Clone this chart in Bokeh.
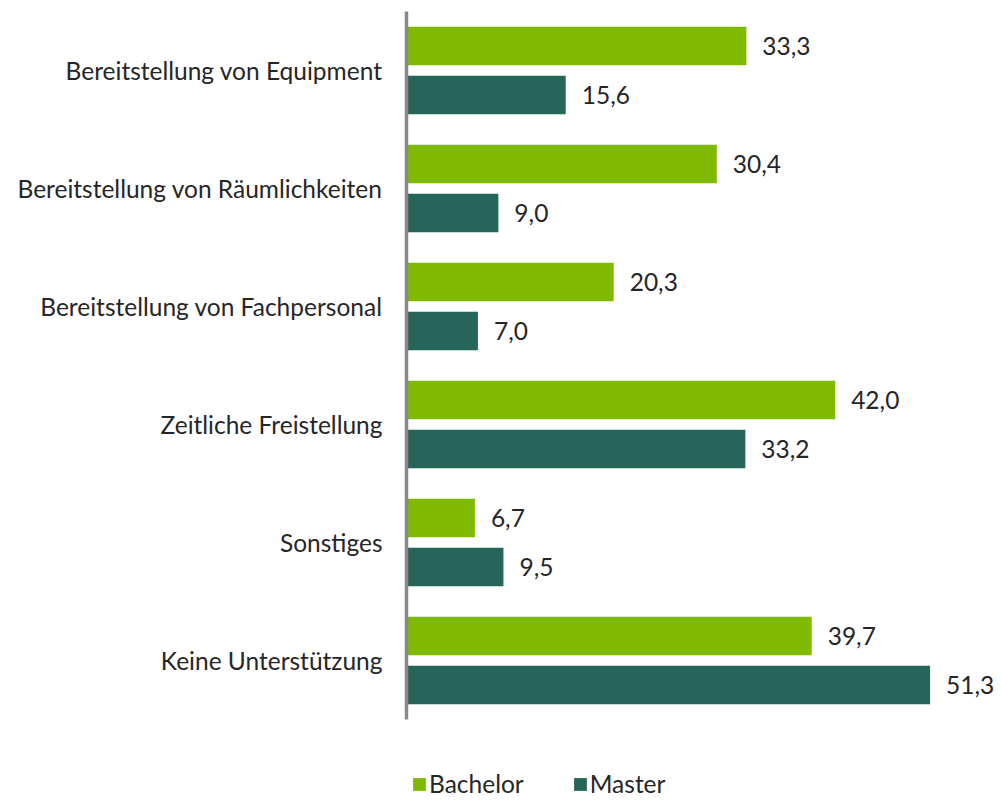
from bokeh.plotting import figure
from bokeh.layouts import column
from bokeh.models import FactorRange, Range1d, ColumnDataSource, Legend, LegendItem
from bokeh.transform import dodge
from bokeh.core.properties import value
from bokeh.embed import file_html
from bokeh.resources import INLINE

categories = ["Bereitstellung von Equipment", "Bereitstellung von Räumlichkeiten",
              "Bereitstellung von Fachpersonal", "Zeitliche Freistellung",
              "Sonstiges", "Keine Unterstützung"]
bachelor = [33.3, 30.4, 20.3, 42.0, 6.7, 39.7]
master = [15.6, 9.0, 7.0, 33.2, 9.5, 51.3]
series_names = ["Bachelor", "Master"]
colors = ["#7FBA00", "#27645A"]

FONT = "Lato"
TXT = "#262626"
FS = "24.5px"

def fmt(v):
    return f"{v:.1f}".replace(".", ",")

src = ColumnDataSource(dict(
    cat=categories,
    bachelor=bachelor,
    master=master,
    bl=[fmt(v) for v in bachelor],
    ml=[fmt(v) for v in master],
))

p = figure(width=1000, height=730, output_backend="svg", toolbar_location=None,
           y_range=FactorRange(*reversed(categories)),
           x_range=Range1d(0, 58.2),
           x_axis_location=None,
           min_border_top=11, min_border_bottom=11, min_border_left=406, min_border_right=0)
p.outline_line_color = None
p.xgrid.visible = False
p.ygrid.visible = False
p.background_fill_color = "white"
p.border_fill_color = "white"

off = 0.208
hb = 0.325
p.hbar(y=dodge("cat", off, range=p.y_range), left=0, right="bachelor", height=hb,
       source=src, fill_color=colors[0], line_color=None)
p.hbar(y=dodge("cat", -off, range=p.y_range), left=0, right="master", height=hb,
       source=src, fill_color=colors[1], line_color=None)

p.text(x="bachelor", y=dodge("cat", off, range=p.y_range), text="bl", source=src,
       x_offset=16, text_baseline="middle", text_align="left",
       text_font=value(FONT), text_font_size=FS, text_color=TXT)
p.text(x="master", y=dodge("cat", -off, range=p.y_range), text="ml", source=src,
       x_offset=16, text_baseline="middle", text_align="left",
       text_font=value(FONT), text_font_size=FS, text_color=TXT)

ax = p.yaxis[0]
ax.axis_line_color = "#888888"
ax.axis_line_width = 3.5
ax.major_tick_line_color = None
ax.minor_tick_line_color = None
ax.major_tick_in = 0
ax.major_tick_out = 0
ax.major_label_standoff = 24
ax.major_label_text_font = FONT
ax.major_label_text_font_size = FS
ax.major_label_text_color = TXT

# legend strip (frame aligned with the main plot's frame by the column layout)
lg = figure(width=1000, height=70, output_backend="svg", toolbar_location=None,
            x_range=Range1d(0, 1), y_range=Range1d(0, 1),
            x_axis_location=None, y_axis_location=None,
            min_border=0)
lg.outline_line_color = None
lg.xgrid.visible = False
lg.ygrid.visible = False
lg.border_fill_color = "white"
proxy = ColumnDataSource(dict(b=bachelor, m=master))
d1 = lg.hbar(y=0, left=0, right="b", height=0, source=proxy,
             fill_color=colors[0], line_color=None)
d2 = lg.hbar(y=0, left=0, right="m", height=0, source=proxy,
             fill_color=colors[1], line_color=None)
legend = Legend(items=[LegendItem(label=series_names[0], renderers=[d1]),
                       LegendItem(label=series_names[1], renderers=[d2])],
                orientation="horizontal", location=(5, 2),
                glyph_width=16, glyph_height=16, label_standoff=2, spacing=48,
                padding=0, margin=0, border_line_color=None, background_fill_alpha=0,
                label_text_font=FONT, label_text_font_size=FS, label_text_color=TXT)
lg.add_layout(legend, "center")

layout = column(p, lg, spacing=0)
open("out.html", "w").write(file_html(layout, INLINE))
